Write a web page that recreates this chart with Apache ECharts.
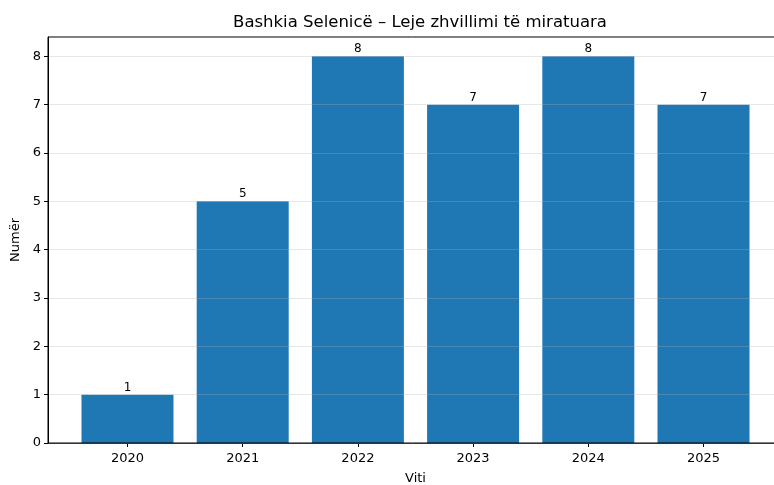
<!DOCTYPE html>
<html>
<head>
<meta charset="utf-8">
<script src="https://cdn.jsdelivr.net/npm/echarts@6/dist/echarts.min.js"></script>
<style>
  html, body { margin: 0; padding: 0; background: #fff; }
  #chart { width: 774px; height: 485px; }
</style>
</head>
<body>
<div id="chart"></div>
<script>
const years = ['2020', '2021', '2022', '2023', '2024', '2025']
const permits = [1, 5, 8, 7, 8, 7]
const yTicks = [0, 1, 2, 3, 4, 5, 6, 7, 8]

const chart = echarts.init(document.getElementById('chart'))
const font = 'DejaVu Sans'

const option = {
  animation: false,
  textStyle: { fontFamily: font },
  title: {
    text: 'Bashkia Selenicë – Leje zhvillimi të miratuara',
    left: 415,
    textAlign: 'center',
    top: 9,
    textStyle: { fontFamily: font, fontSize: 16.5, fontWeight: 'normal', color: '#000' }
  },
  grid: {
    left: 48,
    right: -9,
    top: 37,
    bottom: 42,
    containLabel: false,
    outerBoundsMode: 'none',
    show: true,
    borderColor: '#000',
    borderWidth: 1,
    backgroundColor: 'transparent'
  },
  xAxis: {
    type: 'value',
    min: -0.69,
    max: 5.69,
    name: 'Viti',
    nameLocation: 'middle',
    nameGap: 29,
    nameTextStyle: { fontFamily: font, fontSize: 13, color: '#000' },
    axisLine: { show: true, onZero: false, lineStyle: { color: '#000', width: 1 } },
    axisTick: { show: true, customValues: [0, 1, 2, 3, 4, 5], length: 4, lineStyle: { color: '#000' } },
    axisLabel: {
      customValues: [0, 1, 2, 3, 4, 5],
      fontFamily: font,
      fontSize: 13,
      color: '#000',
      margin: 9,
      formatter: v => years[Math.round(v)]
    },
    splitLine: { show: false }
  },
  yAxis: {
    type: 'value',
    min: 0,
    max: 8.4,
    interval: 1,
    name: 'Numër',
    nameLocation: 'middle',
    nameGap: 26,
    nameRotate: 90,
    nameTextStyle: { fontFamily: font, fontSize: 13, color: '#000' },
    axisLine: { show: true, onZero: false, lineStyle: { color: '#000', width: 1 } },
    axisTick: { show: true, customValues: yTicks, length: 4, lineStyle: { color: '#000' } },
    axisLabel: {
      customValues: yTicks,
      fontFamily: font,
      fontSize: 13,
      color: '#000',
      margin: 7,
      formatter: v => (Number.isInteger(v) ? String(v) : '')
    },
    splitLine: { show: true, lineStyle: { color: 'rgba(176,176,176,0.3)', width: 1 } },
    z: 5
  },
  series: [
    {
      type: 'bar',
      data: permits.map((v, i) => [i, v]),
      barWidth: 92,
      z: -1,
      itemStyle: { color: '#1f77b4' },
      label: {
        show: true,
        position: 'top',
        distance: 1,
        fontFamily: font,
        fontSize: 12,
        color: '#000',
        formatter: p => p.value[1]
      }
    }
  ]
}

chart.setOption(option)
window.addEventListener('resize', () => chart.resize())
</script>
</body>
</html>
